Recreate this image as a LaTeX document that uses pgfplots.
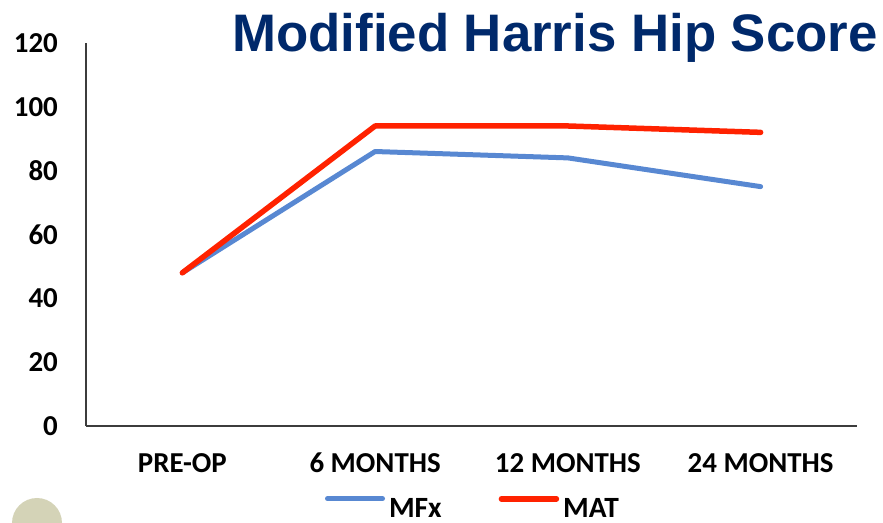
\documentclass[border=0pt]{standalone}
\usepackage{pgfplots}
\pgfplotsset{compat=1.18}
\usepackage{fontspec}
\setmainfont{Carlito}
\newfontfamily\titlefont{Liberation Sans}
\definecolor{navy}{RGB}{0,41,107}
\definecolor{mfx}{RGB}{88,136,210}
\definecolor{mat}{RGB}{255,34,0}
\definecolor{beige}{RGB}{212,211,183}
\definecolor{axgray}{RGB}{60,60,60}
\begin{document}
\begin{tikzpicture}
\useasboundingbox (0bp,0bp) rectangle (883bp,523bp);
\begin{scope}
\clip (0bp,0bp) rectangle (883bp,523bp);
\fill[beige] (37bp,0bp) circle (25bp);
\end{scope}
\begin{axis}[
  at={(86bp,97bp)}, anchor=south west,
  scale only axis, width=771bp, height=383bp,
  xmin=-0.5, xmax=3.5, ymin=0, ymax=120,
  axis x line*=bottom, axis y line*=left,
  axis line style={axgray, line width=1.5bp, -},
  xtick={0,1,2,3},
  xticklabels={PRE-OP, 6 MONTHS, 12 MONTHS, 24 MONTHS},
  ytick={0,20,...,120},
  major tick length=0pt,
  /pgf/number format/assume math mode=true,
  ticklabel style={font=\bfseries\fontsize{29}{29}\selectfont, inner sep=0pt},
  yticklabel style={anchor=east, xshift=-28bp},
  xticklabel style={anchor=base, yshift=-46bp},
  legend style={draw=none, fill=none, inner sep=0pt, outer sep=0pt,
    at={(0.31,-0.213)}, anchor=west,
    font=\bfseries\fontsize{29.5}{29.5}\selectfont,
    nodes={inner sep=0pt},
    /tikz/every even column/.append style={column sep=57bp}},
  legend columns=2,
  legend image code/.code={\draw[#1, line cap=round] (0bp,10bp) -- (55bp,10bp);},
]
\addplot[mfx, line width=5bp, line cap=round, line join=round] coordinates {(0,48) (1,86) (2,84) (3,75)};
\addlegendentry{\hspace{4bp}MFx}
\addplot[mat, line width=5.5bp, line cap=round, line join=round] coordinates {(0,48) (1,94) (2,94) (3,92)};
\addlegendentry{\hspace{4bp}MAT}
\end{axis}
\node[anchor=base, font=\titlefont\bfseries\fontsize{53}{53}\selectfont, text=navy, inner sep=0pt] at (555bp,471bp) {Modified Harris Hip Score};
\end{tikzpicture}
\end{document}
